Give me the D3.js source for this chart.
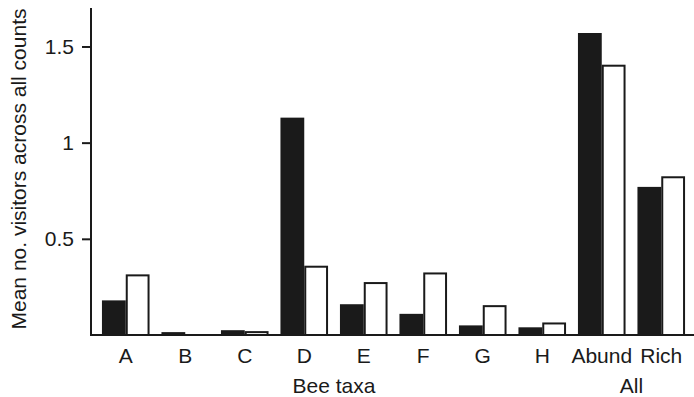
<html>
<head>
<style>
  body { margin: 0; background: #fff; }
  text { font-family: "Liberation Sans", Arial, sans-serif; fill: #1a1a1a; }
</style>
</head>
<body>
<svg id="chart"></svg>
<script src="https://d3js.org/d3.v7.min.js"></script>
<script>
// categories and values
var categories = ['A', 'B', 'C', 'D', 'E', 'F', 'G', 'H', 'Abund', 'Rich'];
var blackValues = [0.18, 0.015, 0.025, 1.13, 0.16, 0.11, 0.05, 0.04, 1.57, 0.77];
var whiteValues = [0.31, 0, 0.015, 0.355, 0.27, 0.32, 0.15, 0.06, 1.40, 0.82];
var yTicks = [0.5, 1, 1.5];
var groupLabels = [{name: 'Bee taxa', from: 'A', to: 'H'}, {name: 'All', from: 'Abund', to: 'Rich'}];

var width = 694, height = 397;
var fs = '21px';
var svg = d3.select('#chart').attr('width', width).attr('height', height);

var x = d3.scaleBand().domain(categories).range([96, 691]).paddingInner(0.2).paddingOuter(0.1);
var sub = d3.scaleBand().domain(['black', 'white']).range([0, x.bandwidth()]);
var y = d3.scaleLinear().domain([0, 1.7]).range([335, 8]);

var rows = categories.map(function(c, i) {
  return {cat: c, vals: [{k: 'black', v: blackValues[i]}, {k: 'white', v: whiteValues[i]}]};
});

// bars
var g = svg.selectAll('g.grp').data(rows).enter().append('g')
  .attr('class', 'grp')
  .attr('transform', function(d) { return 'translate(' + x(d.cat) + ',0)'; });

g.selectAll('rect').data(function(d) { return d.vals.filter(function(e) { return e.v > 0; }); })
  .enter().append('rect')
  .attr('x', function(d) { return sub(d.k) + (d.k == 'white' ? 1 : 0); })
  .attr('width', function(d) { return sub.bandwidth() - (d.k == 'white' ? 2 : 0); })
  .attr('y', function(d) { return y(d.v); })
  .attr('height', function(d) { return y(0) - y(d.v); })
  .style('fill', function(d) { return d.k == 'black' ? '#1a1a1a' : '#fff'; })
  .style('stroke', function(d) { return d.k == 'black' ? 'none' : '#1a1a1a'; })
  .style('stroke-width', 2);

// x axis baseline
svg.append('line')
  .attr('x1', 91).attr('x2', 694).attr('y1', y(0)).attr('y2', y(0))
  .style('stroke', '#1a1a1a').style('stroke-width', 2);

// y axis
var yAxis = d3.axisLeft(y).tickValues(yTicks).tickSize(9).tickPadding(8)
  .tickFormat(function(d) { return d3.format('')(d); });
var ya = svg.append('g').attr('transform', 'translate(91,0)').call(yAxis);
ya.select('.domain').remove();
ya.selectAll('line').style('stroke', '#1a1a1a').style('stroke-width', 2);
ya.selectAll('text').style('font-size', fs).style('font-family', '"Liberation Sans", Arial, sans-serif').attr('fill', '#1a1a1a');
svg.append('line')
  .attr('x1', 91).attr('x2', 91).attr('y1', y(1.7)).attr('y2', y(0) + 1)
  .style('stroke', '#1a1a1a').style('stroke-width', 2);

// category labels
svg.selectAll('text.cat').data(categories).enter().append('text')
  .attr('class', 'cat')
  .attr('x', function(d) { return x(d) + x.bandwidth() / 2; })
  .attr('y', 363)
  .attr('text-anchor', 'middle')
  .style('font-size', fs)
  .text(function(d) { return d; });

svg.selectAll('text.grouplab').data(groupLabels).enter().append('text')
  .attr('class', 'grouplab')
  .attr('x', function(d) { return (x(d.from) + x(d.to) + x.bandwidth()) / 2; })
  .attr('y', 393)
  .attr('text-anchor', 'middle')
  .style('font-size', fs)
  .text(function(d) { return d.name; });

// y label
svg.append('text')
  .attr('transform', 'translate(26,169) rotate(-90)')
  .attr('text-anchor', 'middle')
  .style('font-size', fs)
  .text('Mean no. visitors across all counts');
</script>
</body>
</html>
